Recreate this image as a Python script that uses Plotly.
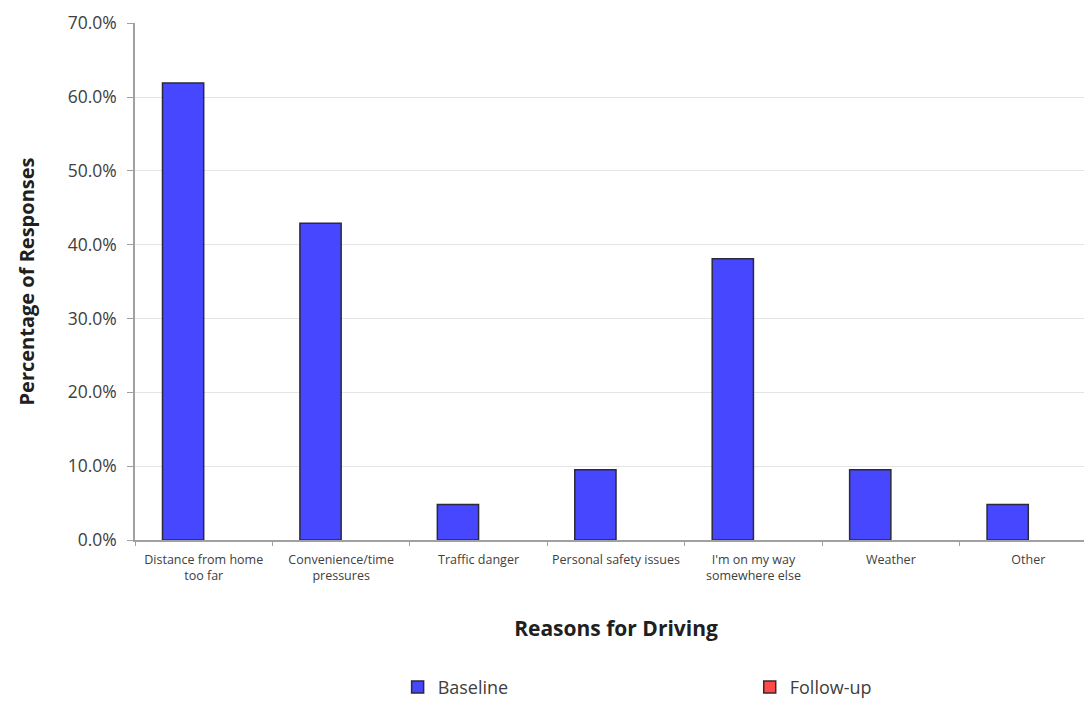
import plotly.graph_objects as go

categories = [
    "Distance from home<br>too far",
    "Convenience/time<br>pressures",
    "Traffic danger",
    "Personal safety issues",
    "I'm on my way<br>somewhere else",
    "Weather",
    "Other",
]
baseline = [0.619, 0.429, 0.048, 0.095, 0.381, 0.095, 0.048]
follow_up = [None, None, None, None, None, None, None]
y_ticks = [0, 0.1, 0.2, 0.3, 0.4, 0.5, 0.6, 0.7]

FONT = "'Open Sans', Lato, sans-serif"

fig = go.Figure()
fig.add_trace(go.Bar(
    x=categories, y=baseline, name="Baseline", legend="legend",
    marker=dict(color="#4747ff", line=dict(color="#2a2a3a", width=1.5)),
))
fig.add_trace(go.Bar(
    x=categories, y=follow_up, name="Follow-up", legend="legend2",
    marker=dict(color="#ff4a4a", line=dict(color="#3a2a2a", width=1.5)),
))

legend_common = dict(
    orientation="h", y=-0.285, yanchor="middle",
    font=dict(size=18, color="#404040"), itemwidth=30,
    bgcolor="rgba(0,0,0,0)",
)

fig.update_layout(
    width=1092, height=701,
    margin=dict(l=127, r=3, t=15, b=165),
    paper_bgcolor="white", plot_bgcolor="white",
    barmode="group", bargap=0.40, bargroupgap=0,
    font=dict(family=FONT, color="#404040"),
    showlegend=True,
    legend=dict(x=0.273, xanchor="left", **legend_common),
    legend2=dict(x=0.639, xanchor="left", **legend_common),
    xaxis=dict(
        showline=True, linecolor="#a0a0a0", linewidth=1.5,
        ticks="outside", tickson="boundaries", ticklen=4, tickcolor="#a0a0a0",
        tickangle=0, ticklabelstandoff=7,
        tickfont=dict(size=12.5, color="#404040"),
        title=dict(text="<b>Reasons for Driving</b>", font=dict(size=21, color="#202020"), standoff=38),
        automargin=False,
    ),
    yaxis=dict(
        range=[0, 0.7003], tickvals=y_ticks, tickformat=".1%",
        showline=True, linecolor="#a0a0a0", linewidth=1.5,
        ticks="outside", ticklen=6, tickcolor="#a0a0a0",
        ticklabelstandoff=7, ticklabeloverflow="allow",
        showgrid=True, gridcolor="#e4e4e4", gridwidth=1,
        zeroline=False,
        tickfont=dict(size=17.5, color="#404040"),
        title=dict(text="<b>Percentage of Responses</b>", font=dict(size=20, color="#202020"), standoff=28),
        automargin=False,
    ),
)

fig.write_html("out.html")
